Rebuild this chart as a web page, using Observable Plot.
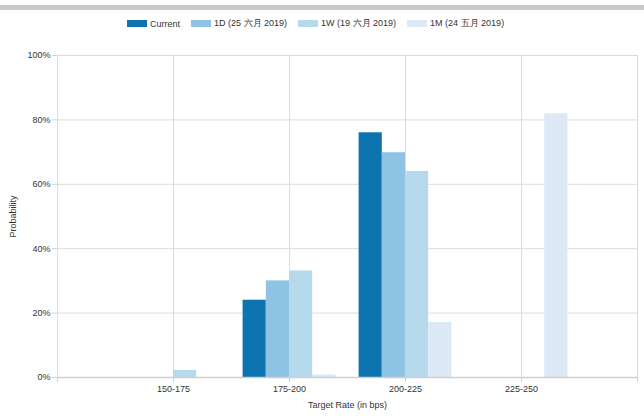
<!DOCTYPE html>
<html><head><meta charset="utf-8">
<script src="https://cdn.jsdelivr.net/npm/d3@7"></script>
<script src="https://cdn.jsdelivr.net/npm/@observablehq/plot@0.6"></script>
<style>
body{margin:0;width:644px;height:418px;position:relative;background:#fff;font-family:"Liberation Sans",Arial,sans-serif;overflow:hidden}
#topbar{position:absolute;left:0;top:5px;width:644px;height:5px;background:#c8c8c8}
#legend{position:absolute;top:17px;left:127px;display:flex;align-items:center;font-size:9px;color:#333;white-space:nowrap}
#legend .item{display:flex;align-items:center;margin-right:11px}
#legend .sw{width:20px;height:7px;margin-right:3px}
#chart{position:absolute;left:0;top:30px}
</style></head>
<body>
<div id="topbar"></div>
<div id="legend"></div>
<div id="chart"></div>
<script>
const categories = ["150-175", "175-200", "200-225", "225-250"];
const seriesNames = ["Current", "1D (25 六月 2019)", "1W (19 六月 2019)", "1M (24 五月 2019)"];
const current  = [0, 24.0, 76.0, 0];
const oneDay   = [0, 30.0, 69.8, 0];
const oneWeek  = [2.2, 33.1, 64.0, 0];
const oneMonth = [0, 0.8, 17.1, 81.9];
const yTicks = [0, 20, 40, 60, 80, 100];
const colors = ["#0d74b0", "#8ec3e3", "#b7d9ec", "#dde9f5"];

const seriesValues = [current, oneDay, oneWeek, oneMonth];
const nSeries = seriesNames.length;
const groupWidth = 0.8; // fraction of a category slot occupied by a group
const rows = [];
seriesValues.forEach((arr, s) => arr.forEach((v, i) => {
  if (v > 0) rows.push({ci: i + 1, si: s, cat: categories[i], series: seriesNames[s], value: v});
}));
const slotStart = d => d.ci - groupWidth / 2 + d.si * groupWidth / nSeries;

const legend = document.getElementById("legend");
seriesNames.forEach((n, i) => {
  const it = document.createElement("div"); it.className = "item";
  const sw = document.createElement("div"); sw.className = "sw"; sw.style.background = colors[i];
  const tx = document.createElement("span"); tx.textContent = n;
  it.appendChild(sw); it.appendChild(tx); legend.appendChild(it);
});

const grid = "#dcdcdc";
const xTicks = d3.range(0, categories.length + 2);
const chart = Plot.plot({
  width: 644, height: 388,
  marginTop: 25, marginLeft: 57, marginRight: 7, marginBottom: 41,
  style: {fontFamily: '"Liberation Sans", Arial, sans-serif', fontSize: "9px", color: "#333", background: "transparent"},
  x: {domain: [0, categories.length + 1]},
  y: {domain: [0, 100]},
  color: {domain: seriesNames, range: colors},
  marks: [
    Plot.gridY(yTicks, {stroke: grid, strokeOpacity: 1}),
    Plot.gridX(xTicks, {stroke: grid, strokeOpacity: 1}),
    Plot.rectY(rows, {x1: slotStart, x2: d => slotStart(d) + groupWidth / nSeries, y: "value", fill: "series"}),
    Plot.ruleY([0], {stroke: "#cfcfcf", strokeWidth: 1.5}),
    Plot.axisX(xTicks, {tickSize: 5, tickPadding: 3, stroke: "#cfcfcf", fill: "#333",
      tickFormat: i => categories[i - 1] ?? "", label: "Target Rate (in bps)", labelAnchor: "center", labelOffset: 30, labelArrow: "none"}),
    Plot.axisY(yTicks, {tickSize: 5, tickPadding: 2, stroke: "#cfcfcf", fill: "#333", tickFormat: d => d + "%",
      label: "Probability", labelAnchor: "center", labelOffset: 48, labelArrow: "none"})
  ]
});
document.getElementById("chart").appendChild(chart);
</script>
</body></html>
